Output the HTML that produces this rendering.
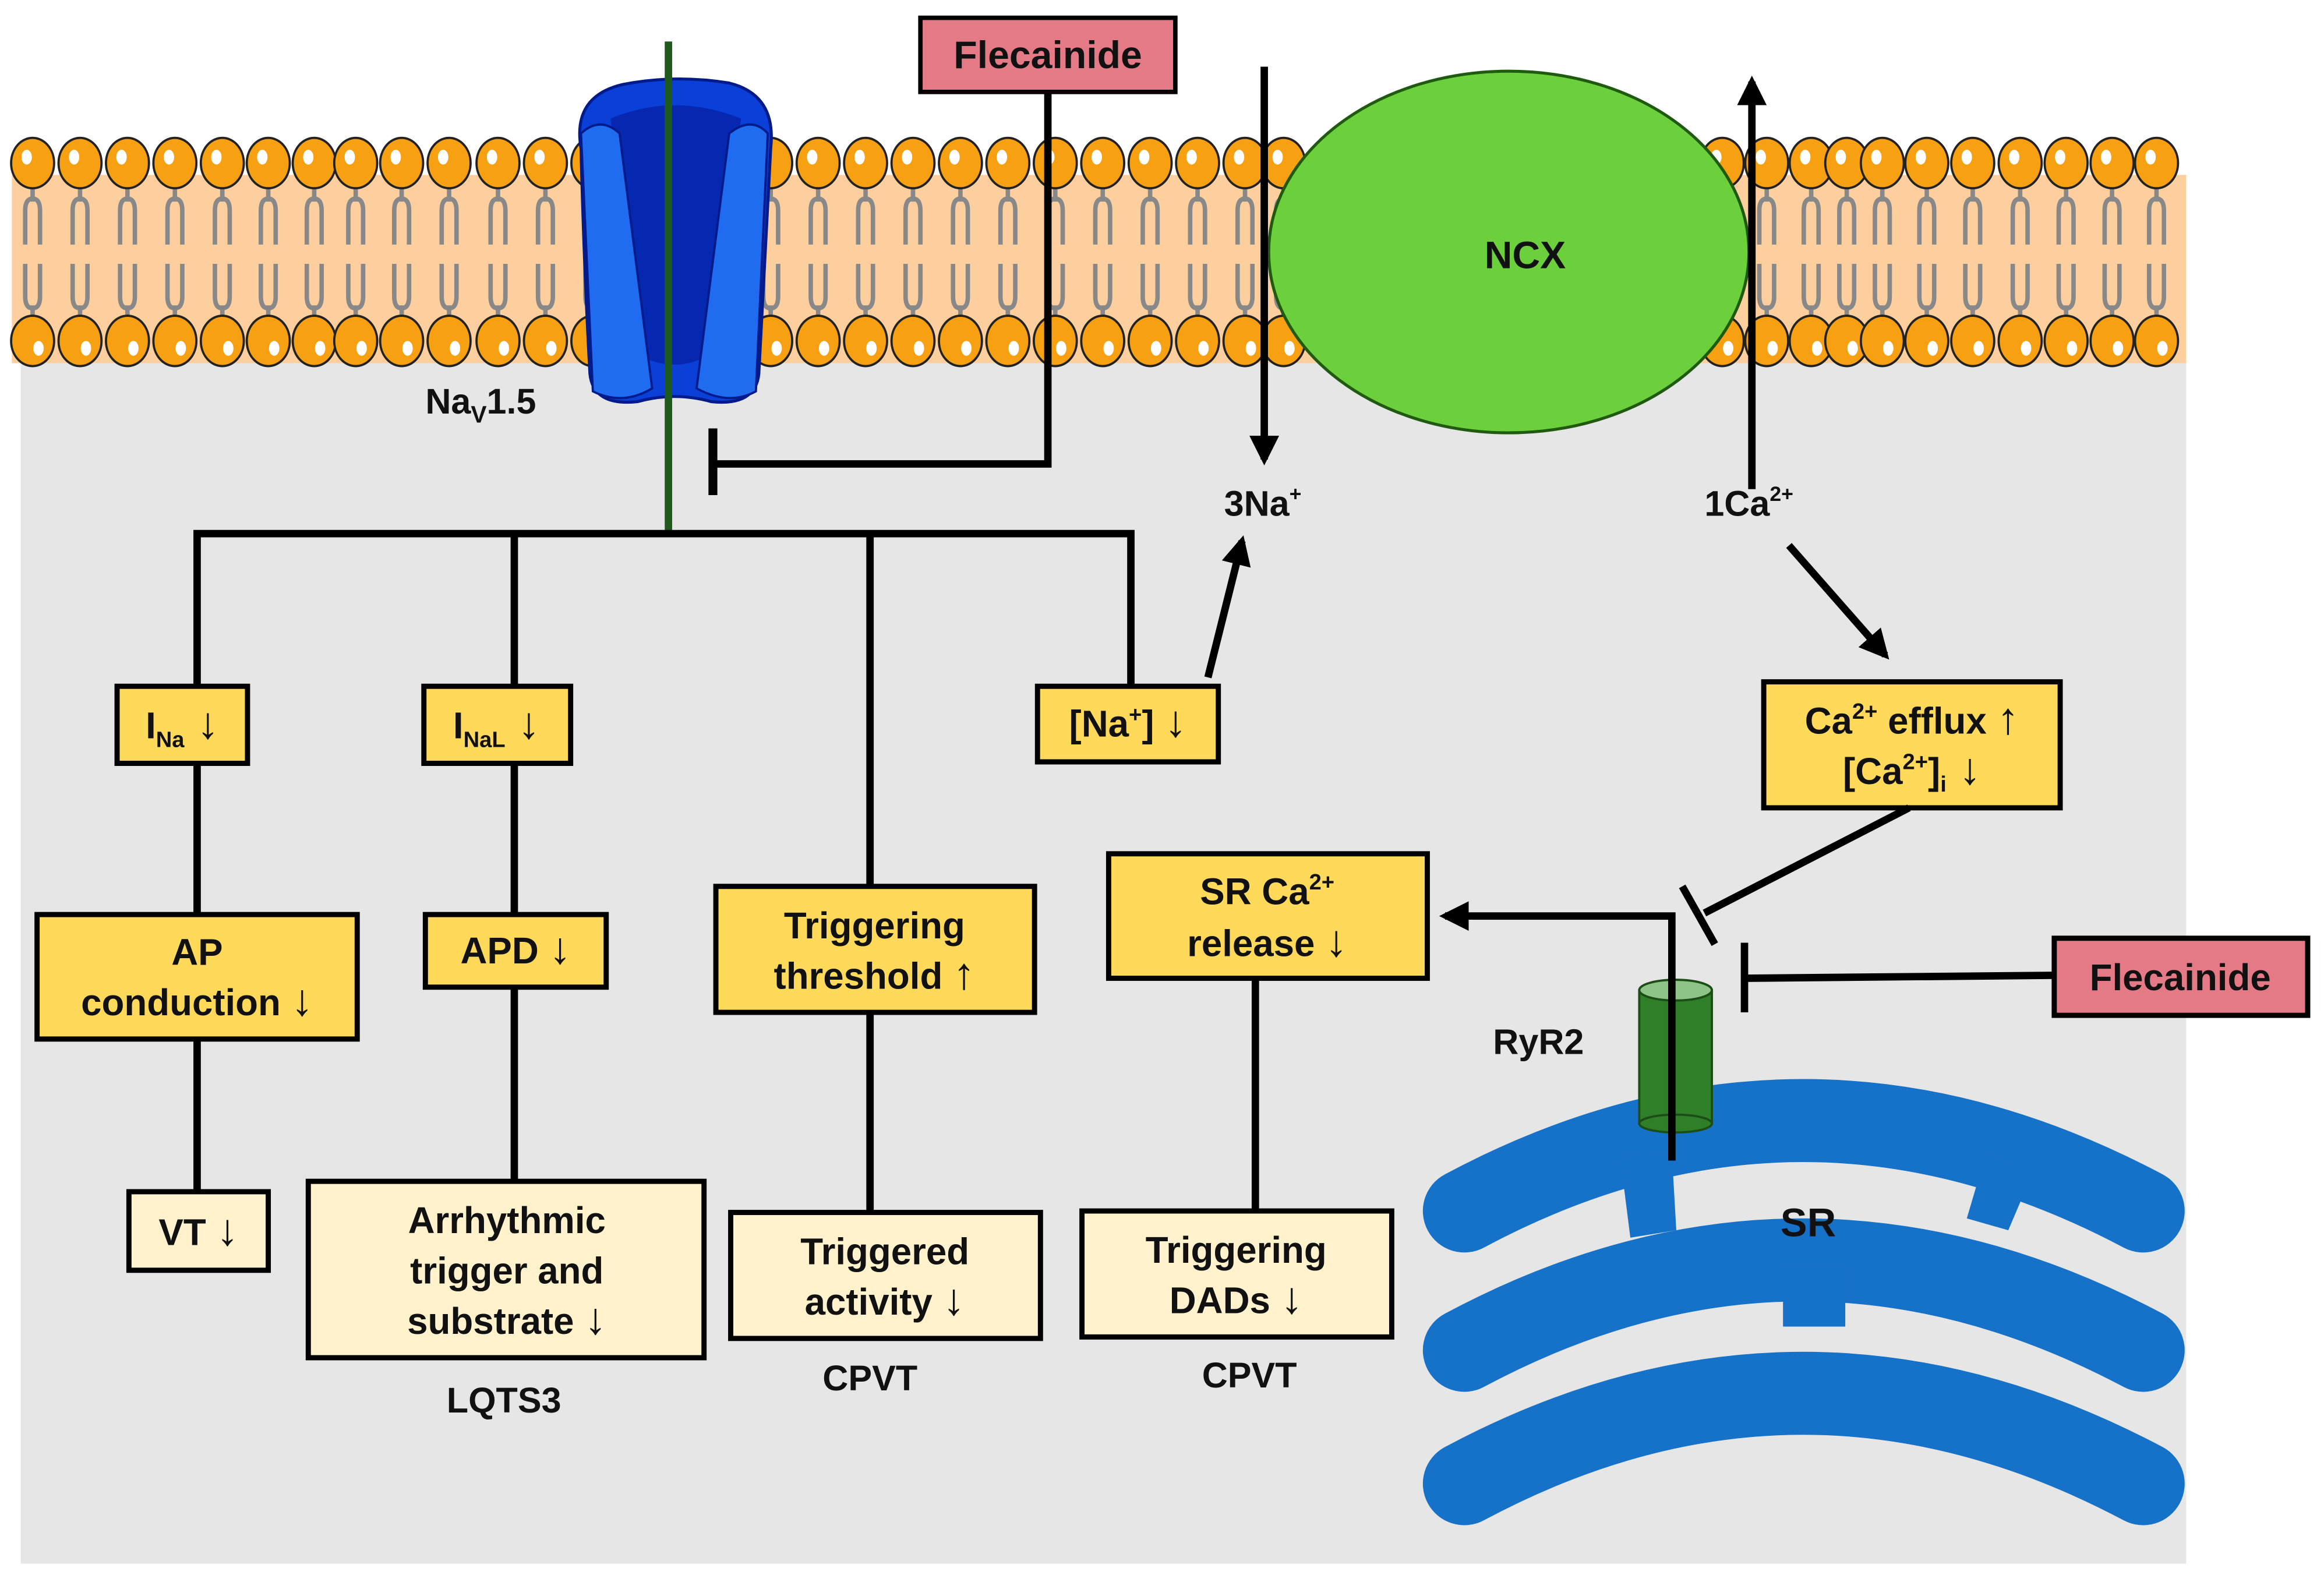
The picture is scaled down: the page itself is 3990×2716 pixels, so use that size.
<!DOCTYPE html>
<html><head><meta charset="utf-8"><style>html,body{margin:0;padding:0;background:#fff}svg{display:block}text{font-family:"Liberation Sans",Arial,sans-serif;font-weight:bold;fill:#111}.a{font-size:30px;font-weight:normal}</style></head>
<body>
<svg width="3990" height="2716" viewBox="0 0 1568 1067.3" xmlns="http://www.w3.org/2000/svg">
<defs>
<g id="lipT">
<line x1="0" y1="118" x2="0" y2="136" stroke="#888" stroke-width="3"/>
<path d="M-5 165 V142 Q-5 134 0 134 Q5 134 5 142 V165" fill="none" stroke="#888" stroke-width="3"/>
<ellipse cx="0" cy="110" rx="14.5" ry="17" fill="#f7a012" stroke="#222" stroke-width="1.5"/>
<ellipse cx="-4" cy="106" rx="3.5" ry="5" fill="#fff"/>
</g>
<g id="lipB">
<line x1="0" y1="206" x2="0" y2="222" stroke="#888" stroke-width="3"/>
<path d="M-5 178 V200 Q-5 208 0 208 Q5 208 5 200 V178" fill="none" stroke="#888" stroke-width="3"/>
<ellipse cx="0" cy="230" rx="14.5" ry="17" fill="#f7a012" stroke="#222" stroke-width="1.5"/>
<ellipse cx="4" cy="235" rx="3.5" ry="5" fill="#fff"/>
</g>
<marker id="ar" viewBox="0 0 10 10" refX="8" refY="5" markerWidth="4" markerHeight="4" orient="auto"><path d="M0 0 L10 5 L0 10 z" fill="#000"/></marker>
</defs>
<rect x="14" y="120" width="1461" height="935" fill="#e6e6e6"/>
<rect x="8" y="118" width="1467" height="127" fill="#fdcf9f"/>
<g>
<use href="#lipT" x="22"/><use href="#lipB" x="22"/>
<use href="#lipT" x="54"/><use href="#lipB" x="54"/>
<use href="#lipT" x="86"/><use href="#lipB" x="86"/>
<use href="#lipT" x="118"/><use href="#lipB" x="118"/>
<use href="#lipT" x="150"/><use href="#lipB" x="150"/>
<use href="#lipT" x="181"/><use href="#lipB" x="181"/>
<use href="#lipT" x="212"/><use href="#lipB" x="212"/>
<use href="#lipT" x="240"/><use href="#lipB" x="240"/>
<use href="#lipT" x="271"/><use href="#lipB" x="271"/>
<use href="#lipT" x="303"/><use href="#lipB" x="303"/>
<use href="#lipT" x="336"/><use href="#lipB" x="336"/>
<use href="#lipT" x="368"/><use href="#lipB" x="368"/>
<use href="#lipT" x="400"/><use href="#lipB" x="400"/>
<use href="#lipT" x="520"/><use href="#lipB" x="520"/>
<use href="#lipT" x="552"/><use href="#lipB" x="552"/>
<use href="#lipT" x="584"/><use href="#lipB" x="584"/>
<use href="#lipT" x="616"/><use href="#lipB" x="616"/>
<use href="#lipT" x="648"/><use href="#lipB" x="648"/>
<use href="#lipT" x="680"/><use href="#lipB" x="680"/>
<use href="#lipT" x="712"/><use href="#lipB" x="712"/>
<use href="#lipT" x="744"/><use href="#lipB" x="744"/>
<use href="#lipT" x="776"/><use href="#lipB" x="776"/>
<use href="#lipT" x="808"/><use href="#lipB" x="808"/>
<use href="#lipT" x="840"/><use href="#lipB" x="840"/>
<use href="#lipT" x="866"/><use href="#lipB" x="866"/>
<use href="#lipT" x="1162"/><use href="#lipB" x="1162"/>
<use href="#lipT" x="1192"/><use href="#lipB" x="1192"/>
<use href="#lipT" x="1222"/><use href="#lipB" x="1222"/>
<use href="#lipT" x="1246"/><use href="#lipB" x="1246"/>
<use href="#lipT" x="1270"/><use href="#lipB" x="1270"/>
<use href="#lipT" x="1300"/><use href="#lipB" x="1300"/>
<use href="#lipT" x="1331"/><use href="#lipB" x="1331"/>
<use href="#lipT" x="1363"/><use href="#lipB" x="1363"/>
<use href="#lipT" x="1394"/><use href="#lipB" x="1394"/>
<use href="#lipT" x="1425"/><use href="#lipB" x="1425"/>
<use href="#lipT" x="1455"/><use href="#lipB" x="1455"/>
</g>
<!-- Nav1.5 channel -->
<path d="M392 100 Q386 65 420 57 Q455 50 492 56 Q524 64 520 100 L512 252 Q510 274 480 271 Q455 264 430 271 Q400 274 398 252 Q394 180 392 100 Z" fill="#0a3fd8" stroke="#021a8a" stroke-width="2"/>
<path d="M412 80 Q455 62 500 80 L478 240 Q455 252 432 240 Z" fill="#0627b0"/>
<path d="M392 90 Q405 78 418 90 L440 262 Q420 274 400 264 Z" fill="#1f6cf0" stroke="#021a8a" stroke-width="1.5"/>
<path d="M492 90 Q507 78 518 90 L510 264 Q492 274 470 262 Z" fill="#1f6cf0" stroke="#021a8a" stroke-width="1.5"/>
<line x1="451" y1="28" x2="451" y2="358" stroke="#1e5a1e" stroke-width="5"/>
<text x="287" y="279" font-size="24">Na<tspan font-size="16" dy="6">V</tspan><tspan dy="-6">1.5</tspan></text>
<!-- NCX -->
<ellipse cx="1018" cy="170" rx="162" ry="122" fill="#6ccf3c" stroke="#1f5a10" stroke-width="2"/>
<text x="1029" y="181" font-size="26" text-anchor="middle">NCX</text>
<line x1="853" y1="45" x2="853" y2="310" stroke="#000" stroke-width="5" marker-end="url(#ar)"/>
<line x1="1182" y1="330" x2="1182" y2="55" stroke="#000" stroke-width="5" marker-end="url(#ar)"/>
<text x="852" y="348" font-size="24" text-anchor="middle">3Na<tspan font-size="14" dy="-10">+</tspan></text>
<text x="1180" y="348" font-size="24" text-anchor="middle">1Ca<tspan font-size="14" dy="-10">2+</tspan></text>
<!-- Flecainide top -->
<rect x="621" y="12" width="172" height="50" fill="#e47a86" stroke="#000" stroke-width="3"/>
<text x="707" y="46" font-size="26" text-anchor="middle">Flecainide</text>
<polyline points="707,62 707,313 481,313" fill="none" stroke="#000" stroke-width="5"/>
<line x1="481" y1="289" x2="481" y2="334" stroke="#000" stroke-width="6"/>
<!-- tree -->
<g stroke="#000" stroke-width="5" fill="none">
<polyline points="133,463 133,360 763,360 763,463"/>
<line x1="347" y1="360" x2="347" y2="463"/>
<line x1="587" y1="360" x2="587" y2="598"/>
<line x1="133" y1="515" x2="133" y2="617"/>
<line x1="133" y1="701" x2="133" y2="804"/>
<line x1="347" y1="515" x2="347" y2="617"/>
<line x1="347" y1="666" x2="347" y2="797"/>
<line x1="587" y1="683" x2="587" y2="818"/>
<line x1="847" y1="660" x2="847" y2="817"/>
</g>
<line x1="815" y1="457" x2="838" y2="365" stroke="#000" stroke-width="5" marker-end="url(#ar)"/>
<line x1="1207" y1="368" x2="1272" y2="442" stroke="#000" stroke-width="5" marker-end="url(#ar)"/>
<!-- boxes -->
<g stroke="#000" stroke-width="3.5">
<rect x="79" y="463" width="88" height="52" fill="#ffd95a"/>
<rect x="286" y="463" width="99" height="52" fill="#ffd95a"/>
<rect x="700" y="463" width="122" height="51" fill="#ffd95a"/>
<rect x="25" y="617" width="216" height="84" fill="#ffd95a"/>
<rect x="287" y="617" width="122" height="49" fill="#ffd95a"/>
<rect x="483" y="598" width="215" height="85" fill="#ffd95a"/>
<rect x="748" y="576" width="215" height="84" fill="#ffd95a"/>
<rect x="1190" y="460" width="200" height="85" fill="#ffd95a"/>
<rect x="87" y="804" width="94" height="53" fill="#fff2cc"/>
<rect x="208" y="797" width="267" height="119" fill="#fff2cc"/>
<rect x="493" y="818" width="209" height="85" fill="#fff2cc"/>
<rect x="730" y="817" width="209" height="85" fill="#fff2cc"/>
<rect x="1386" y="633" width="171" height="52" fill="#e47a86"/>
</g>
<g font-size="25" text-anchor="middle">
<text x="123" y="498">I<tspan font-size="15" dy="6">Na</tspan><tspan dy="-6" class="a"> ↓</tspan></text>
<text x="335" y="498">I<tspan font-size="15" dy="6">NaL</tspan><tspan dy="-6" class="a"> ↓</tspan></text>
<text x="761" y="497">[Na<tspan font-size="15" dy="-10">+</tspan><tspan dy="10">] </tspan><tspan class="a">↓</tspan></text>
<text x="133" y="651">AP</text><text x="133" y="685">conduction <tspan class="a">↓</tspan></text>
<text x="348" y="650">APD <tspan class="a">↓</tspan></text>
<text x="590" y="633">Triggering</text><text x="590" y="667">threshold <tspan class="a">↑</tspan></text>
<text x="855" y="610">SR Ca<tspan font-size="15" dy="-10">2+</tspan></text><text x="855" y="645">release <tspan class="a">↓</tspan></text>
<text x="1290" y="495">Ca<tspan font-size="15" dy="-10">2+</tspan><tspan dy="10"> efflux </tspan><tspan class="a">↑</tspan></text>
<text x="1290" y="529">[Ca<tspan font-size="15" dy="-10">2+</tspan><tspan dy="10">]</tspan><tspan font-size="15" dy="5">i</tspan><tspan dy="-5" class="a"> ↓</tspan></text>
<text x="134" y="840">VT <tspan class="a">↓</tspan></text>
<text x="342" y="832">Arrhythmic</text><text x="342" y="866">trigger and</text><text x="342" y="900">substrate <tspan class="a">↓</tspan></text>
<text x="597" y="853">Triggered</text><text x="597" y="887">activity <tspan class="a">↓</tspan></text>
<text x="834" y="852">Triggering</text><text x="834" y="886">DADs <tspan class="a">↓</tspan></text>
<text x="1471" y="668">Flecainide</text>
<text x="340" y="953" font-size="24">LQTS3</text>
<text x="587" y="938" font-size="24">CPVT</text>
<text x="843" y="936" font-size="24">CPVT</text>
<text x="1038" y="711" font-size="24">RyR2</text>
</g>
<!-- SR -->
<g stroke="#1671c9" fill="none" stroke-linecap="round">
<path d="M988 817 Q1216 695 1446 817" stroke-width="56"/>
<path d="M988 911 Q1216 789 1446 911" stroke-width="56"/>
<path d="M988 1001 Q1216 879 1446 1001" stroke-width="56"/>
</g>
<g fill="#1671c9">
<polygon points="1093,780 1128,778 1131,830 1100,835"/>
<polygon points="1340,778 1372,790 1355,830 1327,822"/>
<rect x="1203" y="855" width="42" height="40"/>
</g>
<text x="1220" y="834" font-size="27" text-anchor="middle">SR</text>
<!-- RyR2 -->
<rect x="1106" y="668" width="49" height="90" fill="#2f7f28" stroke="#1d4d16" stroke-width="1.5"/>
<ellipse cx="1130.5" cy="758" rx="24.5" ry="6" fill="#2f7f28" stroke="#1d4d16" stroke-width="1.5"/>
<ellipse cx="1130.5" cy="668" rx="24.5" ry="7" fill="#8fc488" stroke="#1d4d16" stroke-width="1.5"/>
<polyline points="1128,783 1128,618 975,618" fill="none" stroke="#000" stroke-width="5" marker-end="url(#ar)"/>
<line x1="1288" y1="545" x2="1150" y2="616" stroke="#000" stroke-width="5"/>
<line x1="1135" y1="598" x2="1157" y2="637" stroke="#000" stroke-width="5"/>
<line x1="1386" y1="658" x2="1177" y2="660" stroke="#000" stroke-width="5"/>
<line x1="1177" y1="636" x2="1177" y2="683" stroke="#000" stroke-width="5"/>
</svg>
</body></html>
